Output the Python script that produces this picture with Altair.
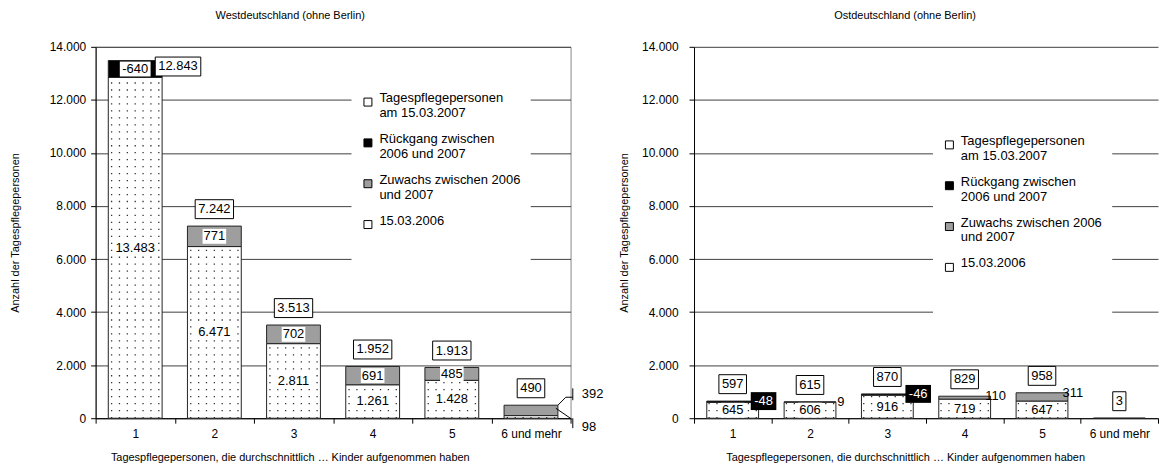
import altair as alt
import pandas as pd

# ---------------- data ----------------
categories = ["1", "2", "3", "4", "5", "6 und mehr"]
west_2006 = [13483, 6471, 2811, 1261, 1428, 98]
west_2007 = [12843, 7242, 3513, 1952, 1913, 490]
east_2006 = [645, 606, 916, 719, 647, 0]
east_2007 = [597, 615, 870, 829, 958, 3]

y_ticks = [0, 2000, 4000, 6000, 8000, 10000, 12000, 14000]
legend_labels = ["Tagespflegepersonen|am 15.03.2007", "Rückgang zwischen|2006 und 2007",
                 "Zuwachs zwischen 2006|und 2007", "15.03.2006"]
legend_colors = ["#ffffff", "#000000", "#9e9e9e", "#ffffff"]

west_title = "Westdeutschland (ohne Berlin)"
east_title = "Ostdeutschland (ohne Berlin)"
x_title = "Tagespflegepersonen, die durchschnittlich … Kinder aufgenommen haben"
y_title = "Anzahl der Tagespflegepersonen"

FONT = "Liberation Sans"


def de(v):
    return f"{v:,}".replace(",", ".")


def tables(v06, v07):
    rows, segs = [], []
    for c, a, b in zip(categories, v06, v07):
        d = b - a
        lo, hi = min(a, b), max(a, b)
        rows.append(dict(cat=c, v06=a, v07=b, diff=d, base=lo, top=hi, zero=0,
                         base_mid=lo / 2, chg_mid=(lo + hi) / 2,
                         t06=de(a), t07=de(b), tdiff=de(d)))
        if lo > 0:
            segs.append(dict(cat=c, y0=0, y1=lo, kind=legend_labels[3]))
        if hi > lo:
            segs.append(dict(cat=c, y0=lo, y1=hi,
                             kind=legend_labels[1] if d < 0 else legend_labels[2]))
    return pd.DataFrame(rows), pd.DataFrame(segs)


xscale = alt.Scale(paddingInner=0, paddingOuter=0)
yscale = alt.Scale(domain=[0, 14000], nice=False)


def X(axis=alt.Undefined):
    return alt.X("cat:N", sort=categories, scale=xscale, axis=axis, title=x_title)


def Y(field, axis=alt.Undefined):
    return alt.Y(field, type="quantitative", scale=yscale, axis=axis, title=y_title)


def label_layers(df, yfield, tfield, xoff=0, yoff=0, bg=None, border=None,
                 color="black", h=15, pad=2, align="center"):
    out = []
    if len(df) == 0:
        return out
    if bg is not None:
        w_expr = (f"length(replace(datum.{tfield}, '.', '')) * 7.23 + "
                  f"(indexof(datum.{tfield}, '.') >= 0 ? 3.6 : 0) + {2 * pad}")
        p_expr = (f"'M' + (-datum.bw / 2) + ',' + ({-h / 2}) + 'h' + datum.bw + 'v' + {h} + "
                  f"'h' + (-datum.bw) + 'Z'")
        kw = dict(filled=True, fill=bg, size=4, opacity=1, xOffset=xoff, yOffset=yoff)
        if border:
            kw.update(stroke=border, strokeWidth=1)
        else:
            kw.update(strokeWidth=0)
        out.append(
            alt.Chart(df)
            .transform_calculate(bw=w_expr)
            .transform_calculate(bgpath=p_expr)
            .mark_point(**kw)
            .encode(x=X(), y=Y(yfield), shape=alt.Shape("bgpath:N", scale=None, legend=None))
        )
    out.append(
        alt.Chart(df)
        .mark_text(font=FONT, fontSize=13, color=color, xOffset=xoff, yOffset=yoff,
                   align=align, baseline="middle")
        .encode(x=X(), y=Y(yfield), text=alt.Text(f"{tfield}:N"))
    )
    return out


def panel(v06, v07, *, title, width, band, title_dx, xtitle_x, ylab_pad, ytitle_pad,
          legend_x, legend_y, west, view_stroke):
    rows, segs = tables(v06, v07)

    x_axis = alt.Axis(title=x_title, titleX=xtitle_x, labelAngle=0, tickBand="extent",
                      tickSize=5, labelPadding=5, titlePadding=12, grid=False,
                      domainColor="black", tickColor="black")
    y_axis = alt.Axis(title=y_title, values=y_ticks,
                      labelExpr="replace(format(datum.value, ','), ',', '.')",
                      grid=True, gridColor="#404040", gridWidth=1, tickSize=5,
                      tickColor="black", domainColor="black",
                      labelPadding=ylab_pad, titlePadding=ytitle_pad)

    legend = alt.Legend(
        title=None, orient="none", legendX=legend_x, legendY=legend_y,
        fillColor="white", padding=10, symbolType="square", symbolSize=64,
        symbolStrokeColor="black", symbolStrokeWidth=1, labelFont=FONT,
        labelFontSize=13, labelColor="black", labelLimit=400, labelOffset=5,
        rowPadding=12, labelBaseline="alphabetic",
        labelExpr="datum.label == '15.03.2006' ? ['15.03.2006', ' ', ' ', ' ', ' '] : split(datum.label, '|')",
    )

    bars = alt.Chart(segs).mark_bar(
        width=alt.RelativeBandSize(band), stroke="#222222", strokeWidth=1, opacity=1
    ).encode(
        x=X(x_axis), y=Y("y0:Q", y_axis), y2="y1:Q",
        fill=alt.Fill("kind:N", scale=alt.Scale(domain=legend_labels, range=legend_colors),
                      legend=legend),
    )

    layers = [bars]
    base_segs = segs[segs.kind == legend_labels[3]]
    for k in range(7):
        off = (k - 3) * 7.9
        layers.append(
            alt.Chart(base_segs)
            .mark_rule(xOffset=off, strokeDash=[1.3, 5.7], strokeWidth=1.3, color="#333333")
            .encode(x=X(), y=Y("y0:Q"), y2="y1:Q")
        )

    if west:
        normal = rows[rows.top < 13000]
        over = rows[rows.top >= 13000]
        layers += label_layers(normal, "top:Q", "t07", yoff=-17, bg="white", border="black", h=19, pad=3)
        layers += label_layers(over, "top:Q", "t07", xoff=43, yoff=6, bg="white", border="black", h=19, pad=3)
        base_in = rows[rows.base >= 400]
        base_out = rows[(rows.base > 0) & (rows.base < 400)]
        chg_in = rows[rows["diff"].abs() >= 450]
        chg_out = rows[(rows["diff"].abs() > 0) & (rows["diff"].abs() < 450)]
        layers += label_layers(base_in, "base_mid:Q", "t06", bg="white", h=15, pad=1)
        layers += label_layers(chg_in, "chg_mid:Q", "tdiff", bg="white", h=15, pad=1)
        if len(chg_out):
            layers.append(
                alt.Chart(chg_out).mark_point(
                    shape="M0,0L8,-8L15,-8M15,-17L15,-5", size=4, filled=False,
                    stroke="black", strokeWidth=1, opacity=1, xOffset=27)
                .encode(x=X(), y=Y("top:Q"))
            )
            layers += label_layers(chg_out, "top:Q", "tdiff", xoff=51, yoff=-11, align="left")
        if len(base_out):
            layers.append(
                alt.Chart(base_out).mark_point(
                    shape="M0,0L16,11M17,10L17,20", size=4, filled=False,
                    stroke="black", strokeWidth=1, opacity=1, xOffset=25, yOffset=-10)
                .encode(x=X(), y=Y("zero:Q"))
            )
            layers += label_layers(base_out, "zero:Q", "t06", xoff=51, yoff=9, align="left")
    else:
        layers += label_layers(rows, "top:Q", "t07", yoff=-17, bg="white", border="black", h=19, pad=3)
        base_in = rows[rows.base > 0]
        layers += label_layers(base_in, "base_mid:Q", "t06", bg="white", h=15, pad=1)
        dec = rows[(rows.v06 > 0) & (rows["diff"] < 0)]
        inc = rows[(rows.v06 > 0) & (rows["diff"] > 0)]
        layers += label_layers(dec, "top:Q", "tdiff", xoff=31, bg="black", color="white", h=18, pad=2)
        layers += label_layers(inc, "top:Q", "tdiff", xoff=31)

    return alt.layer(*layers).properties(
        width=width, height=373,
        title=alt.TitleParams(text=title, font=FONT, fontSize=11, fontWeight="normal",
                              color="black", anchor="middle", frame="group",
                              dx=title_dx, offset=20),
        view=alt.ViewBackground(stroke=view_stroke, strokeWidth=1),
    )


west = panel(west_2006, west_2007, title=west_title, width=477, band=0.68,
             title_dx=-43, xtitle_x=195, ylab_pad=5, ytitle_pad=29,
             legend_x=257, legend_y=39, west=True, view_stroke="#888888")
east = panel(east_2006, east_2007, title=east_title, width=466, band=0.67,
             title_dx=-21, xtitle_x=212, ylab_pad=11, ytitle_pad=12,
             legend_x=240, legend_y=82, west=False, view_stroke="transparent")

chart = (
    alt.hconcat(west, east, spacing=13)
    .resolve_scale(fill="independent")
    .resolve_legend(fill="independent")
    .properties(padding=0)
    .configure(font=FONT)
    .configure_axis(labelFont=FONT, labelFontSize=12, labelColor="black",
                    titleFont=FONT, titleFontSize=11, titleFontWeight="normal",
                    titleColor="black")
)

chart.save("out.html", embed_options={"renderer": "svg", "actions": False})
